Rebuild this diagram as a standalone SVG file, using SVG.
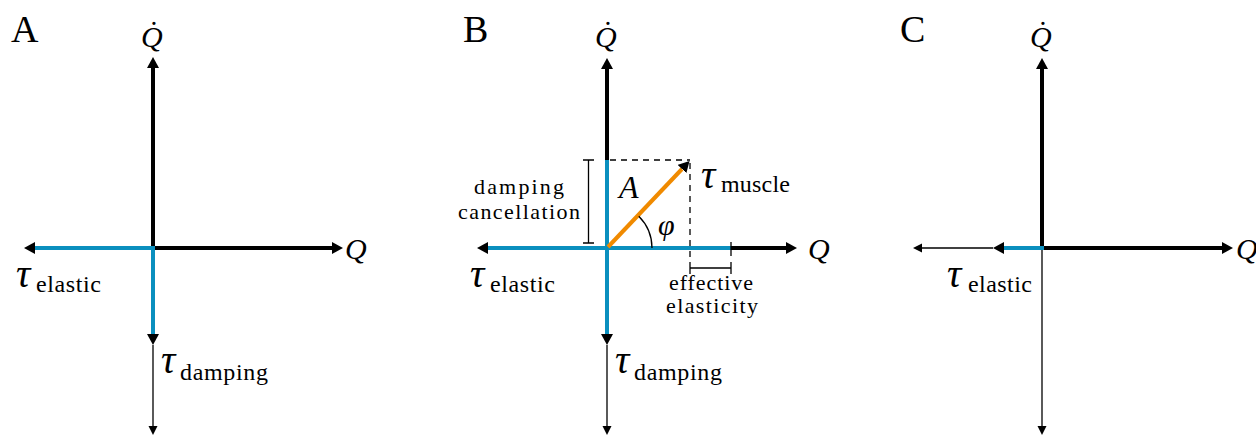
<svg xmlns="http://www.w3.org/2000/svg" width="1256" height="436" viewBox="0 0 1256 436">
<style>
.thick{stroke:#000;stroke-width:4;fill:none}
.blue{stroke:#0A8FBE;stroke-width:4;fill:none}
.thin{stroke:#000;stroke-width:1.3;fill:none}
.dash{stroke:#000;stroke-width:1.3;fill:none;stroke-dasharray:6 5}
.orange{stroke:#F08A00;stroke-width:4;fill:none}
.panel{font-family:"Liberation Serif",serif;font-size:38px;fill:#000}
.math{font-family:"Liberation Serif",serif;font-style:italic;fill:#000}
.sub{font-family:"Liberation Serif",serif;font-size:24px;fill:#000}
.lbl{font-family:"Liberation Serif",serif;font-size:22px;fill:#000;text-anchor:middle}
</style>
<defs>
<marker id="hk" markerUnits="userSpaceOnUse" viewBox="0 -6 11 12" refX="0" refY="0" markerWidth="11" markerHeight="12" orient="auto"><path d="M0,-6 L11,0 L0,6 z" fill="#000"/></marker>
<marker id="ht" markerUnits="userSpaceOnUse" viewBox="0 -5 9 10" refX="0" refY="0" markerWidth="9" markerHeight="10" orient="auto"><path d="M0,-4.5 L9,0 L0,4.5 z" fill="#000"/></marker>
</defs>

<g id="connectors">
<!-- Panel A -->
<line class="thick" x1="153" y1="250" x2="153" y2="68" marker-end="url(#hk)"/>
<line class="thick" x1="151" y1="248" x2="332" y2="248" marker-end="url(#hk)"/>
<line class="blue" x1="155" y1="248" x2="35" y2="248" marker-end="url(#hk)"/>
<line class="blue" x1="153" y1="248" x2="153" y2="334" marker-end="url(#hk)"/>
<line class="thin" x1="153" y1="345" x2="153" y2="426" marker-end="url(#ht)"/>

<!-- Panel B -->
<line class="thick" x1="607" y1="162" x2="607" y2="69" marker-end="url(#hk)"/>
<line class="thick" x1="729" y1="248" x2="786" y2="248" marker-end="url(#hk)"/>
<line class="blue" x1="731" y1="248" x2="488" y2="248" marker-end="url(#hk)"/>
<line class="blue" x1="607" y1="160" x2="607" y2="334" marker-end="url(#hk)"/>
<line class="thin" x1="607" y1="345" x2="607" y2="426" marker-end="url(#ht)"/>
<line class="dash" x1="610" y1="160" x2="690" y2="160"/>
<line class="dash" x1="690" y1="163" x2="690" y2="257"/>
<line class="thin" x1="731" y1="242" x2="731" y2="256"/>
<line class="orange" x1="608" y1="247" x2="682" y2="169" marker-end="url(#hk)"/>
<path class="thin" d="M652,248 A45,45 0 0 0 638.8,216.2"/>
<path class="thin" d="M583,160 H594 M588.5,160 V243 M583,243 H594"/>
<path class="thin" d="M690,262 V274 M690,268 H731 M731,262 V274"/>

<!-- Panel C -->
<line class="thick" x1="1042" y1="250" x2="1042" y2="69" marker-end="url(#hk)"/>
<line class="thick" x1="1040" y1="248" x2="1222" y2="248" marker-end="url(#hk)"/>
<line class="blue" x1="1044" y1="248" x2="1004" y2="248" marker-end="url(#hk)"/>
<line class="thin" x1="993" y1="248" x2="922" y2="248" marker-end="url(#ht)"/>
<line class="thin" x1="1042" y1="250" x2="1042" y2="426" marker-end="url(#ht)"/>
</g>

<g id="panelA">
<text class="panel" x="11" y="42">A</text>
<text class="math" x="141" y="47" font-size="30">Q̇</text>
<text class="math" x="345" y="259" font-size="30">Q</text>
<text class="math" x="16" y="287" font-size="40">τ</text>
<text class="sub" x="36" y="292" textLength="65">elastic</text>
<text class="math" x="161" y="373" font-size="40">τ</text>
<text class="sub" x="180" y="380" textLength="88">damping</text>
</g>

<g id="panelB">
<text class="panel" x="463" y="42">B</text>
<text class="math" x="595" y="47" font-size="30">Q̇</text>
<text class="math" x="808" y="259" font-size="30">Q</text>
<text class="math" x="470" y="287" font-size="40">τ</text>
<text class="sub" x="490" y="292" textLength="65">elastic</text>
<text class="math" x="615" y="373" font-size="40">τ</text>
<text class="sub" x="634" y="380" textLength="88">damping</text>
<text class="math" x="701" y="188" font-size="40">τ</text>
<text class="sub" x="721" y="192" textLength="69">muscle</text>
<text class="math" x="619" y="198" font-size="32">A</text>
<text class="math" x="658" y="235" font-size="30">φ</text>
<text class="lbl" x="519" y="194" textLength="90">damping</text>
<text class="lbl" x="519" y="219" textLength="122">cancellation</text>
<text class="lbl" x="711" y="290" font-size="20" textLength="84">effective</text>
<text class="lbl" x="712" y="313" font-size="20" textLength="92">elasticity</text>
</g>

<g id="panelC">
<text class="panel" x="900" y="42">C</text>
<text class="math" x="1030" y="47" font-size="30">Q̇</text>
<text class="math" x="1236" y="259" font-size="30">Q</text>
<text class="math" x="947" y="287" font-size="40">τ</text>
<text class="sub" x="968" y="292" textLength="64">elastic</text>
</g>
</svg>
